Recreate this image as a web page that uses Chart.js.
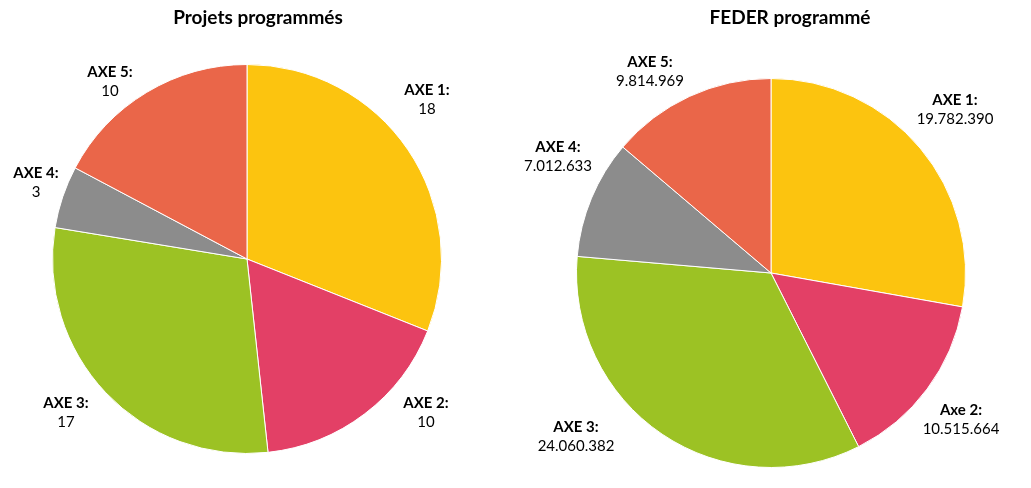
<!DOCTYPE html>
<html><head><meta charset="utf-8">
<script src="https://cdn.jsdelivr.net/npm/chart.js@4.4.1/dist/chart.umd.min.js"></script>
<style>
html,body{margin:0;padding:0;background:#fff;width:1031px;height:488px;overflow:hidden;}
.w{position:absolute;top:0;height:488px;}
</style></head><body>
<div class="w" style="left:0;width:516px"><canvas id="c1"></canvas></div>
<div class="w" style="left:516px;width:515px"><canvas id="c2"></canvas></div>
<script>
const leftTitle = "Projets programmés";
const rightTitle = "FEDER programmé";
const leftLabels = ["AXE 1:", "AXE 2:", "AXE 3:", "AXE 4:", "AXE 5:"];
const rightLabels = ["AXE 1:", "Axe 2:", "AXE 3:", "AXE 4:", "AXE 5:"];
const leftValues = [18, 10, 17, 3, 10];
const rightValues = [19782390, 10515664, 24060382, 7012633, 9814969];
const sliceColors = ["#FCC40F", "#E34066", "#9CC224", "#8C8C8C", "#EA6649"];

// label anchor offsets (relative to pie centre), layout only
const leftLabelPos = [[180,-169],[179,144],[-181,144],[-211,-86],[-137,-187]];
const rightLabelPos = [[184,-173],[190,137],[-195,154],[-213,-126],[-121,-211]];

function fmt(v){ return v.toLocaleString('de-DE').replace(/,/g,'.'); }

const FONT = "Lato, 'Open Sans', sans-serif";

function labelPlugin(title, titleX, labels, pos){
  return {
    id:'lbl',
    afterDraw(chart){
      const ctx = chart.ctx;
      const meta = chart.getDatasetMeta(0);
      const arc = meta.data[0];
      const cx = arc.x, cy = arc.y;
      ctx.save();
      ctx.fillStyle = '#000';
      ctx.textAlign = 'center';
      ctx.textBaseline = 'middle';
      ctx.font = "bold 19px " + FONT;
      ctx.fillText(title, titleX, 18);
      const vals = chart.data.datasets[0].data;
      vals.forEach((v,i)=>{
        const x = cx + pos[i][0], y = cy + pos[i][1];
        ctx.font = "bold 15px " + FONT;
        ctx.fillText(labels[i], x, y);
        ctx.font = "15px " + FONT;
        ctx.fillText(fmt(v), x, y + 19);
      });
      ctx.restore();
    }
  };
}

function makePie(id, labels, values, padding, title, titleX, pos){
  return new Chart(document.getElementById(id), {
    type:'pie',
    data:{ labels: labels, datasets:[{ data: values, backgroundColor: sliceColors, borderColor:'#fff', borderWidth:1 }]},
    options:{
      responsive:true, maintainAspectRatio:false, animation:false,
      layout:{ padding: padding },
      plugins:{ legend:{display:false}, tooltip:{enabled:false}, title:{display:false} }
    },
    plugins:[labelPlugin(title, titleX, labels, pos)]
  });
}

makePie('c1', leftLabels, leftValues, {left:52, top:64, right:74, bottom:34}, leftTitle, 258, leftLabelPos);
makePie('c2', rightLabels, rightValues, {left:60, top:78, right:65, bottom:20}, rightTitle, 274, rightLabelPos);
</script>
</body></html>
